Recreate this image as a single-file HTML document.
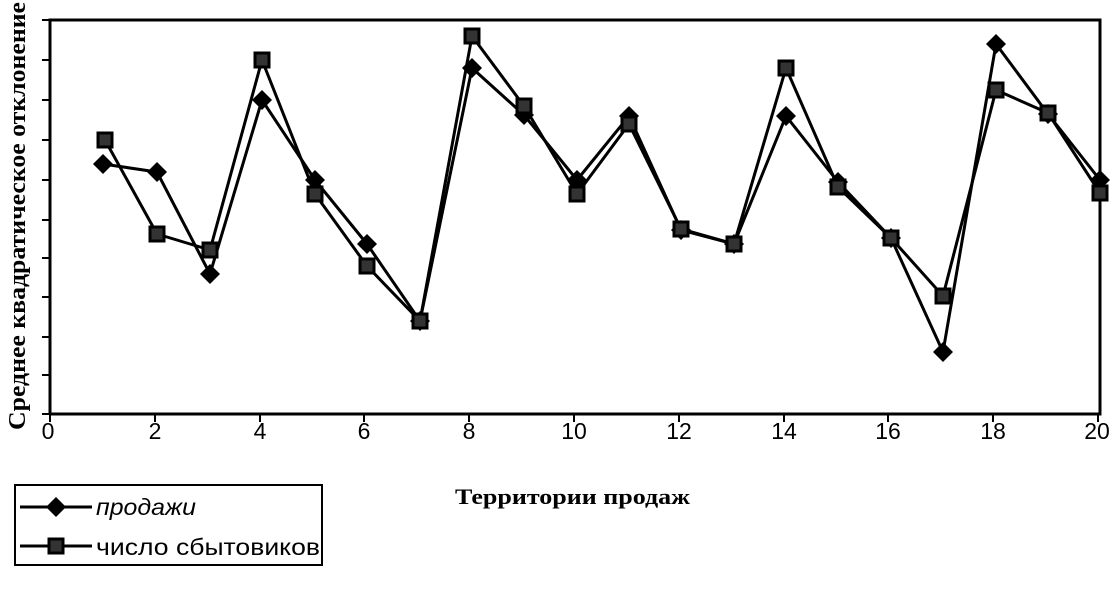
<!DOCTYPE html>
<html><head><meta charset="utf-8"><style>body{margin:0;background:#fff}svg{display:block}</style></head>
<body>
<svg width="1120" height="591" xmlns="http://www.w3.org/2000/svg">
<rect width="1120" height="591" fill="#fff"/>
<g stroke="#000" stroke-width="3" fill="none">
<polyline points="50,414 50,20 1100,20 1100,414 50,414"/>
</g>
<g stroke="#000" stroke-width="2">
<line x1="42" y1="20" x2="50" y2="20"/><line x1="42" y1="60" x2="50" y2="60"/><line x1="42" y1="100" x2="50" y2="100"/><line x1="42" y1="140" x2="50" y2="140"/><line x1="42" y1="180" x2="50" y2="180"/><line x1="42" y1="220" x2="50" y2="220"/><line x1="42" y1="258" x2="50" y2="258"/><line x1="42" y1="297" x2="50" y2="297"/><line x1="42" y1="337" x2="50" y2="337"/><line x1="42" y1="375" x2="50" y2="375"/><line x1="42" y1="414" x2="50" y2="414"/>
<line x1="50" y1="414" x2="50" y2="422"/><line x1="155" y1="414" x2="155" y2="422"/><line x1="260" y1="414" x2="260" y2="422"/><line x1="364" y1="414" x2="364" y2="422"/><line x1="469" y1="414" x2="469" y2="422"/><line x1="574" y1="414" x2="574" y2="422"/><line x1="679" y1="414" x2="679" y2="422"/><line x1="784" y1="414" x2="784" y2="422"/><line x1="888" y1="414" x2="888" y2="422"/><line x1="993" y1="414" x2="993" y2="422"/><line x1="1098" y1="414" x2="1098" y2="422"/>
</g>
<g font-family="Liberation Sans, sans-serif" font-size="23" text-anchor="middle">
<text x="48" y="439">0</text><text x="155" y="439">2</text><text x="260" y="439">4</text><text x="364" y="439">6</text><text x="469" y="439">8</text><text x="574" y="439">10</text><text x="679" y="439">12</text><text x="784" y="439">14</text><text x="888" y="439">16</text><text x="993" y="439">18</text><text x="1097" y="439">20</text>
</g>
<text x="455" y="504" font-family="Liberation Serif, serif" font-weight="bold" font-size="22" textLength="235" lengthAdjust="spacingAndGlyphs">Территории продаж</text>
<text transform="translate(25,430) rotate(-90)" font-family="Liberation Serif, serif" font-weight="bold" font-size="24" textLength="428" lengthAdjust="spacingAndGlyphs">Среднее квадратическое отклонение</text>
<g stroke="#000" stroke-width="3" fill="none" stroke-linejoin="round">
<polyline points="103,164 157,172 210,274 262,100 315,180 367,244 420,321 472,68 524,115 577,180 629,116 681,230 734,244 786,116 838,182 891,238 943,352 996,44 1048,114 1100,180"/>
<polyline points="105,140 157,234 210,250 262,60 315,194 367,266 420,321 472,36 524,106 577,194 629,124 681,229 734,244 786,68 838,187 891,238 943,296 996,90 1048,113 1100,193"/>
</g>
<g fill="#000">
<path d="M103,154l10,10l-10,10l-10,-10z"/><path d="M157,162l10,10l-10,10l-10,-10z"/><path d="M210,264l10,10l-10,10l-10,-10z"/><path d="M262,90l10,10l-10,10l-10,-10z"/><path d="M315,170l10,10l-10,10l-10,-10z"/><path d="M367,234l10,10l-10,10l-10,-10z"/><path d="M420,311l10,10l-10,10l-10,-10z"/><path d="M472,58l10,10l-10,10l-10,-10z"/><path d="M524,105l10,10l-10,10l-10,-10z"/><path d="M577,170l10,10l-10,10l-10,-10z"/><path d="M629,106l10,10l-10,10l-10,-10z"/><path d="M681,220l10,10l-10,10l-10,-10z"/><path d="M734,234l10,10l-10,10l-10,-10z"/><path d="M786,106l10,10l-10,10l-10,-10z"/><path d="M838,172l10,10l-10,10l-10,-10z"/><path d="M891,228l10,10l-10,10l-10,-10z"/><path d="M943,342l10,10l-10,10l-10,-10z"/><path d="M996,34l10,10l-10,10l-10,-10z"/><path d="M1048,104l10,10l-10,10l-10,-10z"/><path d="M1100,170l10,10l-10,10l-10,-10z"/>
</g>
<g fill="#333" stroke="#000" stroke-width="3">
<rect x="98" y="133" width="14" height="14"/><rect x="150" y="227" width="14" height="14"/><rect x="203" y="243" width="14" height="14"/><rect x="255" y="53" width="14" height="14"/><rect x="308" y="187" width="14" height="14"/><rect x="360" y="259" width="14" height="14"/><rect x="413" y="314" width="14" height="14"/><rect x="465" y="29" width="14" height="14"/><rect x="517" y="99" width="14" height="14"/><rect x="570" y="187" width="14" height="14"/><rect x="622" y="117" width="14" height="14"/><rect x="674" y="222" width="14" height="14"/><rect x="727" y="237" width="14" height="14"/><rect x="779" y="61" width="14" height="14"/><rect x="831" y="180" width="14" height="14"/><rect x="884" y="231" width="14" height="14"/><rect x="936" y="289" width="14" height="14"/><rect x="989" y="83" width="14" height="14"/><rect x="1041" y="106" width="14" height="14"/><rect x="1093" y="186" width="14" height="14"/>
</g>
<rect x="15" y="485" width="307" height="80" fill="none" stroke="#000" stroke-width="2"/>
<g stroke="#000" stroke-width="3"><line x1="20" y1="507" x2="92" y2="507"/><line x1="20" y1="546" x2="92" y2="546"/></g>
<path d="M56,497l10,10l-10,10l-10,-10z" fill="#000"/>
<rect x="49" y="539" width="14" height="14" fill="#333" stroke="#000" stroke-width="3"/>
<g font-family="Liberation Sans, sans-serif" font-size="23">
<text x="96" y="515" font-style="italic" textLength="100" lengthAdjust="spacingAndGlyphs">продажи</text>
<text x="96" y="555" textLength="224" lengthAdjust="spacingAndGlyphs">число сбытовиков</text>
</g>
</svg>
</body></html>
